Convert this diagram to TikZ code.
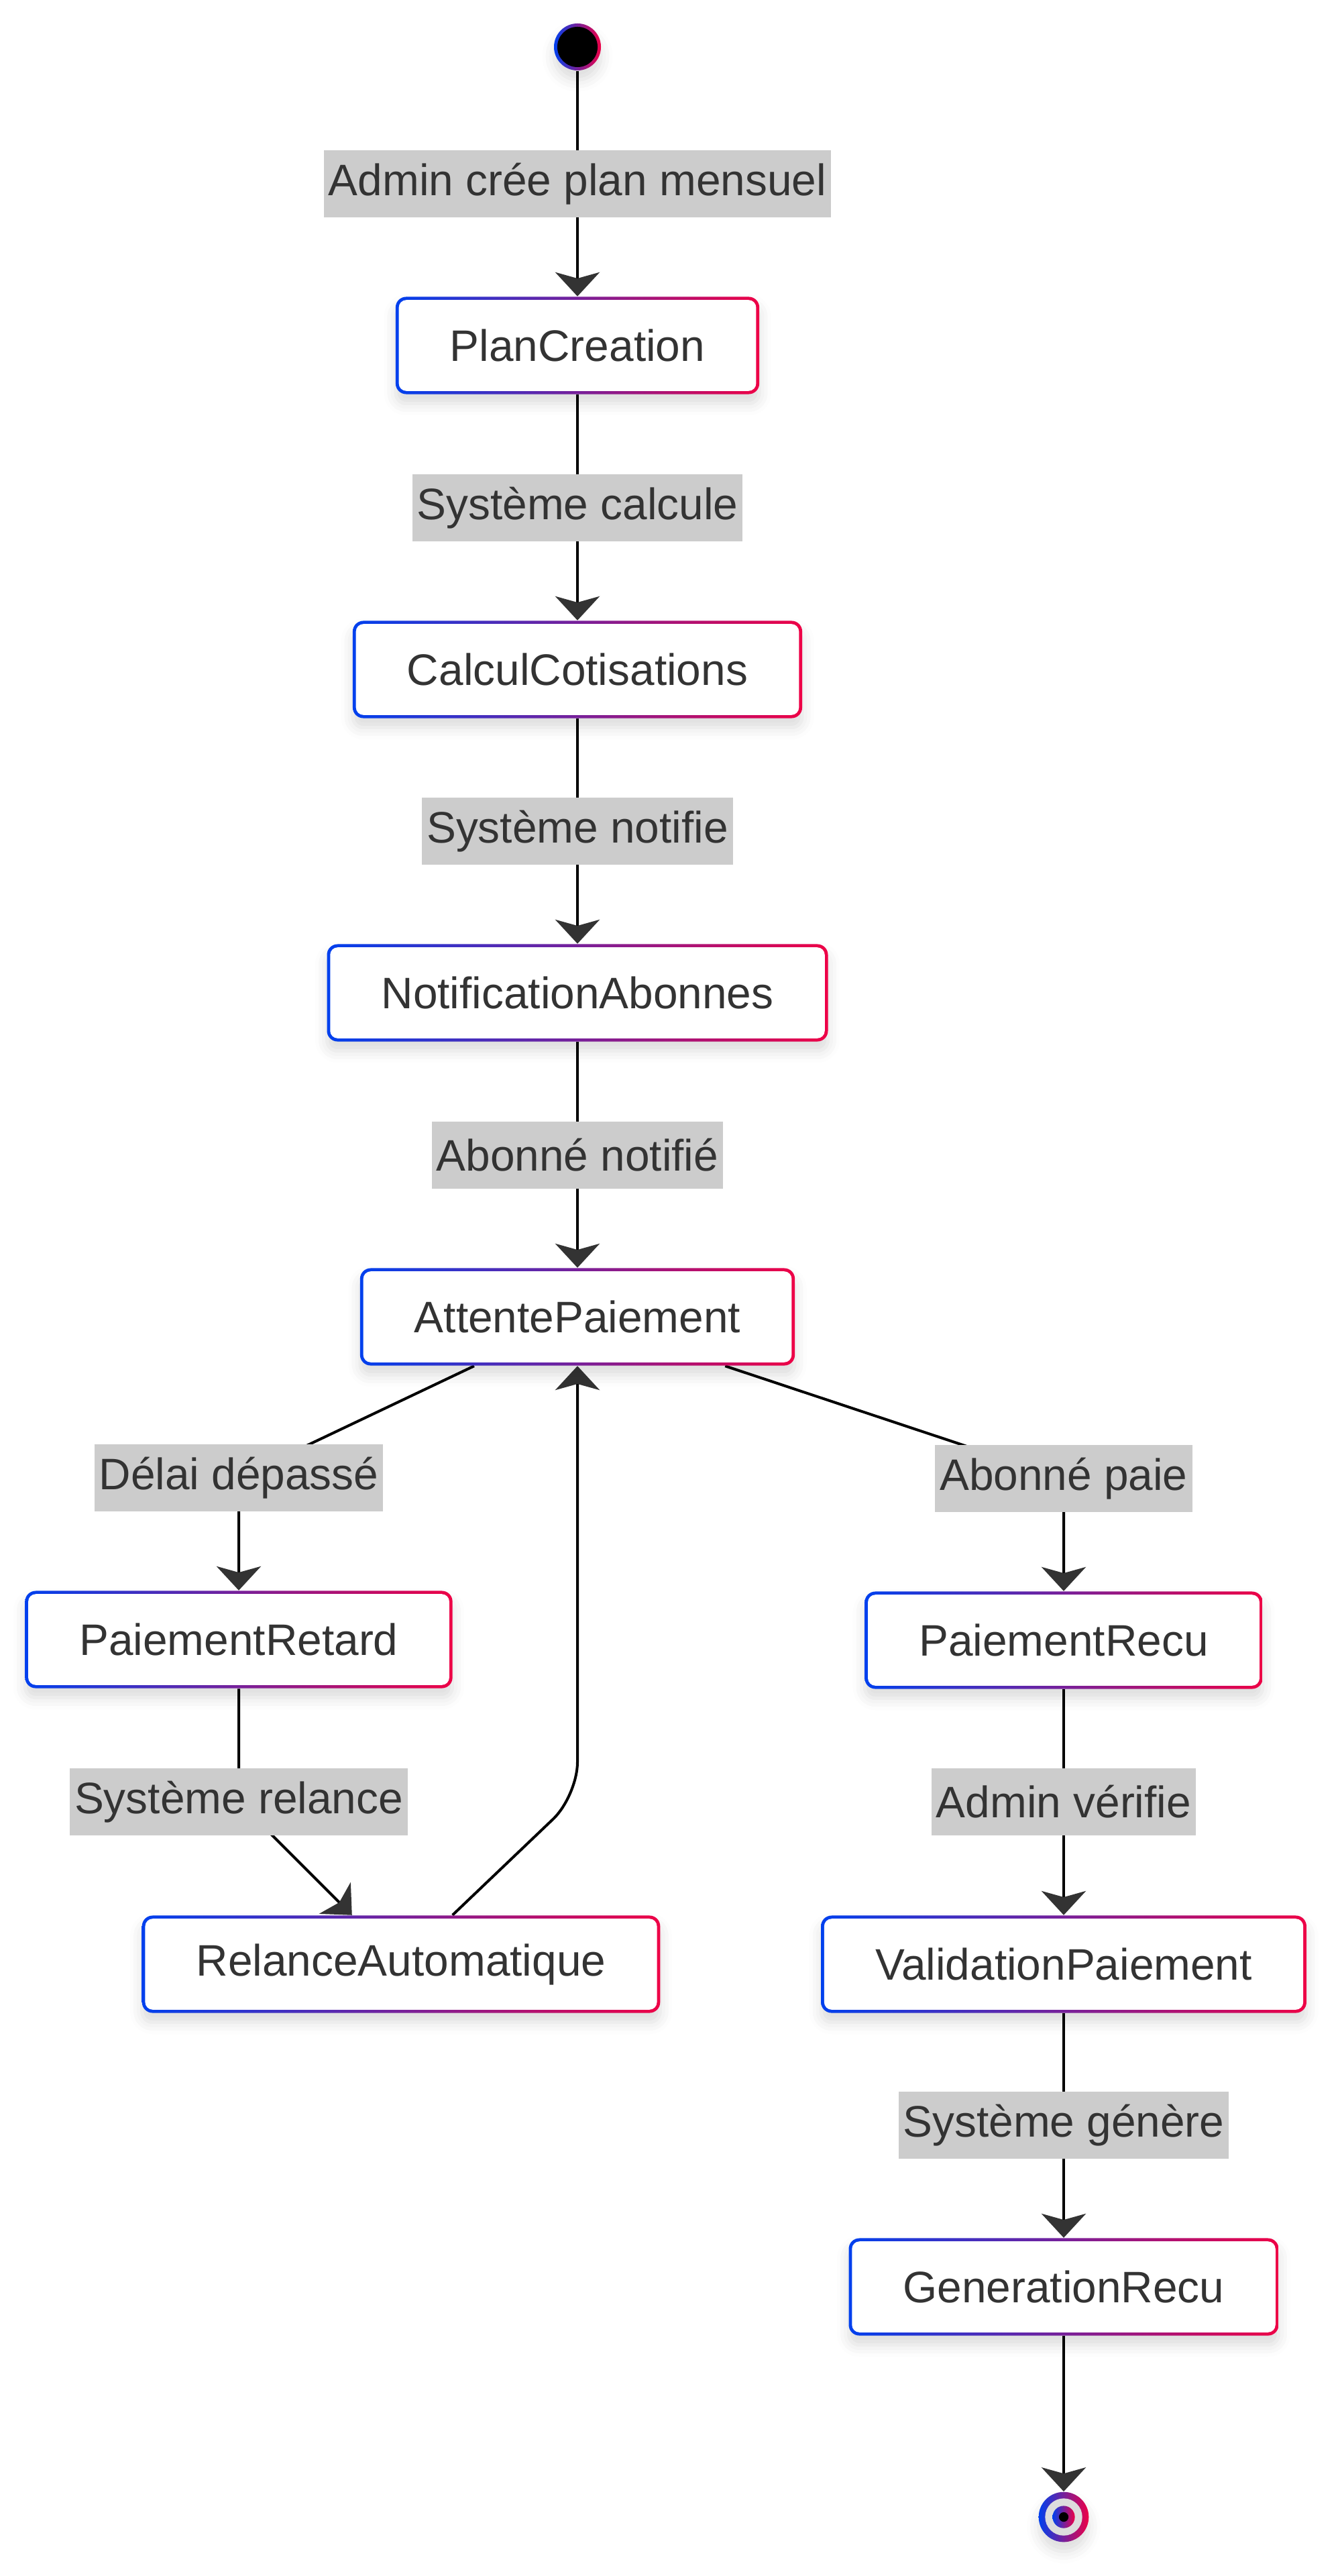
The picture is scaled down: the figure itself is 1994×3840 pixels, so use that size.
\documentclass[tikz,border=0pt]{standalone}
\usepackage{fontspec}
\setmainfont{Liberation Sans}
\usetikzlibrary{arrows.meta,backgrounds,shadows.blur}
\definecolor{stBlue}{RGB}{0,64,238}
\definecolor{stRed}{RGB}{238,0,70}
\definecolor{txtGray}{RGB}{51,51,51}
\definecolor{lblGray}{RGB}{204,204,204}
\definecolor{ringGray}{RGB}{221,221,221}
\tikzset{
  softShadow/.style={blur shadow={shadow xshift=0pt, shadow yshift=-4pt, shadow blur radius=5pt, shadow opacity=14}},
  stateBox/.style={rectangle, rounded corners=4.5pt, left color=stBlue, right color=stRed,
    minimum height=1.45cm, inner xsep=0.81cm, inner ysep=0pt, text=txtGray,
    font=\fontsize{18.7}{22}\selectfont, softShadow,
    path picture={\fill[white, rounded corners=3.2pt]
      ([shift={(1.35pt,1.35pt)}]path picture bounding box.south west) rectangle
      ([shift={(-1.35pt,-1.35pt)}]path picture bounding box.north east);}},
  transLbl/.style={fill=lblGray, text=txtGray, font=\fontsize{18.7}{22}\selectfont,
    minimum height=1cm, inner xsep=0.07cm, inner ysep=0pt},
  initState/.style={circle, minimum size=0.7cm, inner sep=0pt, left color=stBlue, right color=stRed, softShadow,
    path picture={\fill[black] (path picture bounding box.center) circle (0.3cm);}},
  finalState/.style={circle, minimum size=0.746cm, inner sep=0pt, left color=stBlue, right color=stRed, softShadow,
    path picture={\fill[ringGray] (path picture bounding box.center) circle (0.277cm);
      \shade[left color=stBlue, right color=stRed] (path picture bounding box.center) circle (0.166cm);
      \fill[black] (path picture bounding box.center) circle (0.071cm);}},
  flow/.style={line width=1.14pt, -{Stealth[length=10.2pt, width=18.8pt, inset=2.6pt, color=txtGray]}},
}
\begin{document}
\begin{tikzpicture}[x=0.01cm, y=-0.01cm]
  \useasboundingbox (0,0) rectangle (1994,3840);
  %% States
  \node[initState] (start) at (861,70) {};
  \node[stateBox] (plan) at (861,515) {PlanCreation};
  \node[stateBox] (calcul) at (861,998) {CalculCotisations};
  \node[stateBox] (notif) at (861,1480) {NotificationAbonnes};
  \node[stateBox] (attente) at (861,1963) {AttentePaiement};
  \node[stateBox] (retard) at (356,2444) {PaiementRetard};
  \node[stateBox] (relance) at (598,2928) {RelanceAutomatique};
  \node[stateBox] (recu) at (1586,2445) {PaiementRecu};
  \node[stateBox] (valid) at (1586,2928) {ValidationPaiement};
  \node[stateBox] (gener) at (1586,3409) {GenerationRecu};
  \node[finalState] (stop) at (1586,3752) {};
  %% Transition labels
  \node[transLbl] (lAdmin) at (861,274) {Admin crée plan mensuel};
  \node[transLbl] (lCalcule) at (861,757) {Système calcule};
  \node[transLbl] (lNotifie) at (861,1239) {Système notifie};
  \node[transLbl] (lNotified) at (861,1722) {Abonné notifié};
  \node[transLbl] (lDelai) at (356,2203) {Délai dépassé};
  \node[transLbl] (lRelance) at (356,2686) {Système relance};
  \node[transLbl] (lPaie) at (1586,2204) {Abonné paie};
  \node[transLbl] (lVerifie) at (1586,2686) {Admin vérifie};
  \node[transLbl] (lGenere) at (1586,3168) {Système génère};
  \coordinate (kLoop) at (861,2677);
  %% Transitions
  \begin{scope}[on background layer]
    \draw[flow] (start) -- (lAdmin.center) -- (plan);
    \draw[flow] (plan) -- (lCalcule.center) -- (calcul);
    \draw[flow] (calcul) -- (lNotifie.center) -- (notif);
    \draw[flow] (notif) -- (lNotified.center) -- (attente);
    \draw[flow] (attente) -- (lDelai.center) -- (retard);
    \draw[flow] (retard) -- (lRelance.center) -- (relance);
    \draw[flow,rounded corners=0.5cm] (relance) -- (kLoop) -- (attente);
    \draw[flow] (attente) -- (lPaie.center) -- (recu);
    \draw[flow] (recu) -- (lVerifie.center) -- (valid);
    \draw[flow] (valid) -- (lGenere.center) -- (gener);
    \draw[flow] (gener) -- (stop);
  \end{scope}
\end{tikzpicture}
\end{document}
